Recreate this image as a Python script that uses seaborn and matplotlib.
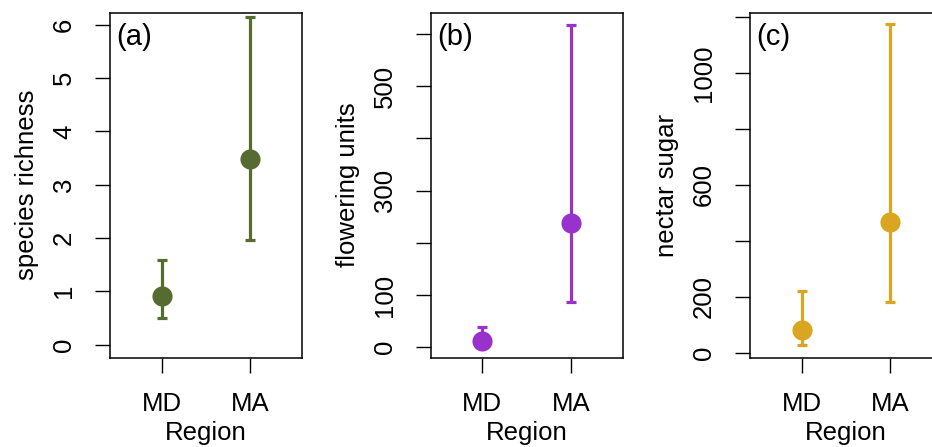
import numpy as np
import pandas as pd
import matplotlib
matplotlib.use("Agg")
import matplotlib.pyplot as plt
import seaborn as sns

# ---- data ----
regions = ["MD", "MA"]

richness_mean = [0.91, 3.48]
richness_low = [0.49, 1.97]
richness_high = [1.59, 6.15]

flowers_mean = [12.6, 238]
flowers_low = [4.6, 86]
flowers_high = [38, 618]

sugar_mean = [81, 468]
sugar_low = [28, 182]
sugar_high = [221, 1175]

panel_labels = ["(a)", "(b)", "(c)"]
y_labels = ["species richness", "flowering units", "nectar sugar"]
colors = ["#556B2F", "#9932CC", "#DAA520"]

a_ticks = [0, 1, 2, 3, 4, 5, 6]
a_ticklabels = ["0", "1", "2", "3", "4", "5", "6"]
b_ticks = [0, 100, 200, 300, 400, 500, 600]
b_ticklabels = ["0", "100", "", "300", "", "500", ""]
c_ticks = [0, 200, 400, 600, 800, 1000, 1200]
c_ticklabels = ["0", "200", "", "600", "", "1000", ""]

sns.set_style("white")
plt.rcParams["font.family"] = ["Liberation Sans", "DejaVu Sans"]
plt.rcParams["text.color"] = "black"
plt.rcParams["axes.labelcolor"] = "black"
plt.rcParams["xtick.color"] = "black"
plt.rcParams["ytick.color"] = "black"

fig = plt.figure(figsize=(9.32, 4.47), dpi=100)

lefts = [0.118, 0.4621, 0.8047]
width = 0.206
bottom = 0.2
height = 0.7716

panels = [
    (richness_mean, richness_low, richness_high, a_ticks, a_ticklabels, (-0.244, 6.225)),
    (flowers_mean, flowers_low, flowers_high, b_ticks, b_ticklabels, (-19.9, 640.8)),
    (sugar_mean, sugar_low, sugar_high, c_ticks, c_ticklabels, (-17.9, 1216.5)),
]

fs = 18.5
for i, (m, lo, hi, ticks, tlabels, ylim) in enumerate(panels):
    ax = fig.add_axes([lefts[i], bottom, width, height])
    df = pd.DataFrame({"Region": regions, "value": m})
    m_arr = np.asarray(m, dtype=float)
    yerr = [m_arr - np.asarray(lo), np.asarray(hi) - m_arr]
    ax.errorbar(np.arange(len(regions)), m_arr, yerr=yerr, fmt="none",
                ecolor=colors[i], elinewidth=2.3, capsize=3.8, capthick=2.3, zorder=2)
    sns.scatterplot(data=df, x="Region", y="value", ax=ax, color=colors[i],
                    s=210, edgecolor=colors[i], linewidth=0, zorder=3, legend=False)
    ax.set_xlim(-0.58, 1.58)
    ax.set_ylim(*ylim)
    ax.set_yticks(ticks)
    ax.set_yticklabels(tlabels, rotation=90, va="center", fontsize=fs)
    ax.set_xticks(range(len(regions)))
    ax.set_xticklabels(regions, fontsize=fs)
    ax.tick_params(axis="both", direction="out", length=10.5, width=1.0,
                   color="black", labelcolor="black", pad=14, bottom=True, left=True)
    ax.set_xlabel("Region", fontsize=fs, labelpad=4, color="black")
    ax.set_ylabel(y_labels[i], fontsize=fs, labelpad=9, color="black")
    for sp in ax.spines.values():
        sp.set_visible(True)
        sp.set_color("black")
        sp.set_linewidth(1.1)
    ax.text(0.035, 0.97, panel_labels[i], transform=ax.transAxes, ha="left",
            va="top", fontsize=fs + 2.5, color="black")

fig.savefig("out.png", dpi=100)
